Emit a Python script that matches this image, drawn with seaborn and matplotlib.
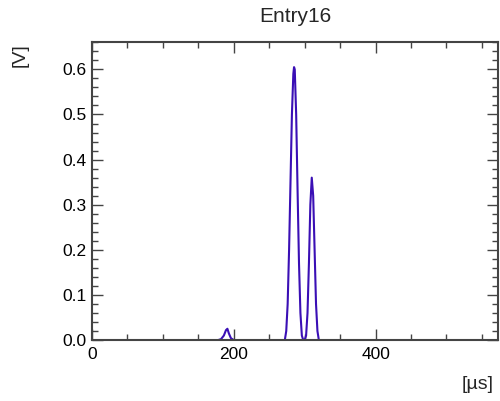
import matplotlib
matplotlib.use("Agg")
import matplotlib.pyplot as plt
import seaborn as sns
import pandas as pd
from matplotlib.ticker import MultipleLocator

time_us = [0, 100, 170, 178, 182, 186, 189, 191, 193, 196, 200, 205, 260, 270, 272, 274, 276, 278, 280, 282,
           284, 285, 286, 288, 290, 292, 294, 296, 298, 300, 302, 304, 306, 308, 310, 312,
           314, 316, 318, 320, 330, 400, 500, 572]
voltage_v = [0, 0, 0, 0, 0.002, 0.01, 0.022, 0.025, 0.015, 0.004, 0, 0, 0, 0, 0.0, 0.02, 0.08, 0.2, 0.35, 0.5,
             0.59, 0.605, 0.6, 0.5, 0.33, 0.17, 0.06, 0.01, 0, 0, 0.01, 0.06, 0.17, 0.3, 0.36, 0.32,
             0.2, 0.08, 0.02, 0, 0, 0, 0, 0]

title = "Entry16"
xlabel = "[\u00b5s]"
ylabel = "[V]"

sns.set_style("ticks")
plt.rcParams['font.family'] = ['Liberation Sans', 'DejaVu Sans']

df = pd.DataFrame({"t": time_us, "v": voltage_v})

fig = plt.figure(figsize=(5.0, 4.01), dpi=100)
ax = fig.add_axes([0.184, 0.152, 0.811, 0.7425])
sns.lineplot(data=df, x="t", y="v", ax=ax, color="#3a0fb5", linewidth=1.5)

ax.set_xlim(0, 572)
ax.set_ylim(0, 0.66)
ax.xaxis.set_major_locator(MultipleLocator(200))
ax.xaxis.set_minor_locator(MultipleLocator(50))
ax.yaxis.set_major_locator(MultipleLocator(0.1))
ax.yaxis.set_minor_locator(MultipleLocator(0.02))
ax.yaxis.set_major_formatter(matplotlib.ticker.FormatStrFormatter('%.1f'))
ax.tick_params(which='both', direction='in', top=True, right=True, colors='#444444', labelcolor='black', labelsize=12.5)
ax.tick_params(which='major', length=8, width=1)
ax.tick_params(which='minor', length=4, width=1)
ax.tick_params(axis='x', pad=5)
ax.tick_params(axis='y', pad=4)
for s in ax.spines.values():
    s.set_color('#444444')
    s.set_linewidth(1.5)

ax.set_xlabel("")
ax.set_ylabel("")
fig.text(0.59, 0.958, title, ha='center', va='center', fontsize=15)
fig.text(0.987, 0.04, xlabel, ha='right', va='center', fontsize=14)
fig.text(0.04, 0.863, ylabel, ha='center', va='center', rotation=90, fontsize=14)

fig.savefig("out.png", dpi=100)
